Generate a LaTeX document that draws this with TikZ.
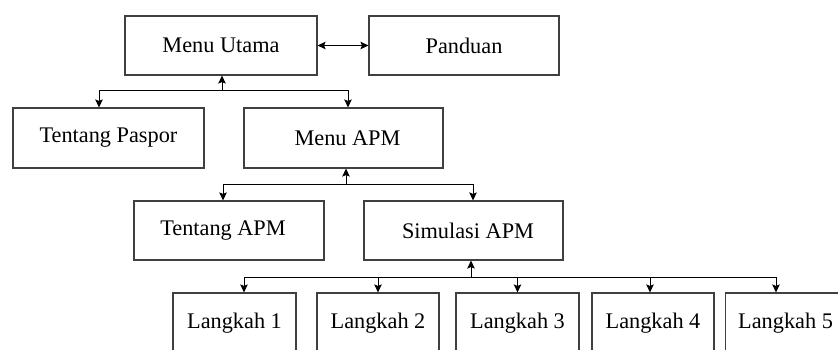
\documentclass[tikz,border=0pt]{standalone}
\usepackage{fontspec}
\setmainfont{Liberation Serif}
\usetikzlibrary{arrows.meta,calc}
\begin{document}
\begin{tikzpicture}[x=1pt,y=-1pt,
  box/.style={draw=black!75,line width=1.1pt,inner sep=0pt,minimum height=59pt,
    font=\fontsize{22.3}{25}\selectfont,text=black},
  conn/.style={line width=1pt,draw=black,-{Stealth[length=8pt,width=7.5pt,inset=1.5pt]}},
  dconn/.style={line width=1pt,draw=black,{Stealth[length=8pt,width=7.5pt,inset=1.5pt]}-{Stealth[length=8pt,width=7.5pt,inset=1.5pt]}}]
\useasboundingbox (0,0) rectangle (838,350);
\clip (0,0) rectangle (838,350);
\node[box,minimum width=192pt] (mu) at (221,45.5) {Menu Utama};
\node[box,minimum width=190pt] (pa) at (464,45.5) {Panduan};
\node[box,minimum width=191pt,minimum height=60pt] (tp) at (108.5,138) {Tentang Paspor};
\node[box,minimum width=199pt,minimum height=60pt] (ma) at (343.5,138) {\hspace*{8pt}Menu APM};
\node[box,minimum width=190pt] (ta) at (229,230.5) {Tentang APM\hspace*{12pt}};
\node[box,minimum width=199pt] (sa) at (463.5,230.5) {\hspace*{9pt}Simulasi APM};
\node[box,minimum width=123pt,minimum height=60pt] (l1) at (234.5,323) {Langkah 1};
\node[box,minimum width=122pt,minimum height=60pt] (l2) at (378,323) {Langkah 2};
\node[box,minimum width=123pt,minimum height=60pt] (l3) at (517.5,323) {Langkah 3};
\node[box,minimum width=122pt,minimum height=60pt] (l4) at (653,323) {Langkah 4};
\node[box,minimum width=180pt,minimum height=60pt,anchor=west] (l5) at (725,323) {\hspace*{6pt}Langkah 5\hspace*{66pt}};
\coordinate (j1) at (222,91);
\coordinate (j2) at (346,184);
\coordinate (j3) at (471,277);
\draw[dconn] (mu.east) -- (pa.west);
\draw[conn] (j1) -- (j1 |- mu.south);
\draw[conn] (j1) -| ([xshift=-9.5pt]tp.north);
\draw[conn] (j1) -| ([xshift=4.5pt]ma.north);
\draw[conn] (j2) -- (j2 |- ma.south);
\draw[conn] (j2) -| ([xshift=-6pt]ta.north);
\draw[conn] (j2) -| ([xshift=9.5pt]sa.north);
\draw[conn] (j3) -- (j3 |- sa.south);
\draw[conn] (j3) -| ([xshift=9.5pt]l1.north);
\draw[conn] (j3) -| (l2.north);
\draw[conn] (j3) -| (l3.north);
\draw[conn] (j3) -| ([xshift=-3pt]l4.north);
\draw[conn] (j3) -| ([xshift=51pt]l5.north west);
\end{tikzpicture}
\end{document}
